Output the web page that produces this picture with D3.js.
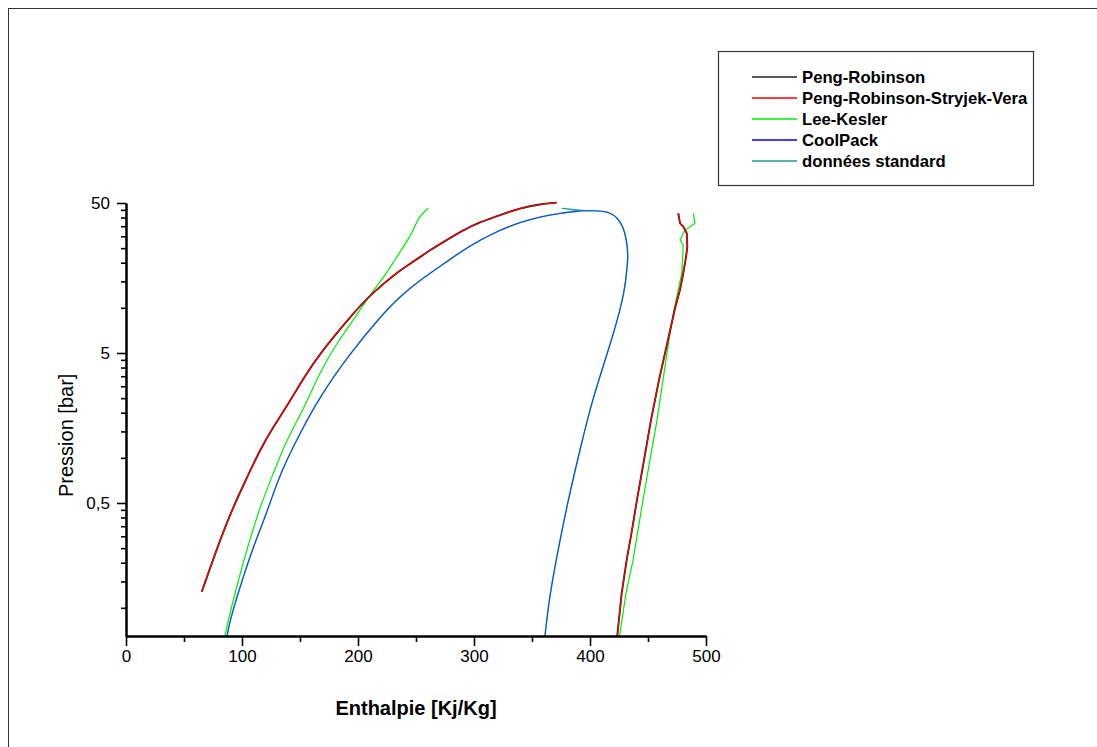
<!DOCTYPE html>
<html>
<head>
<meta charset="utf-8">
<script src="https://cdn.jsdelivr.net/npm/d3@7"></script>
<style>
  body { margin: 0; background: #fff; }
  text { font-family: "Liberation Sans", Arial, sans-serif; }
</style>
</head>
<body>
<div class="chart"></div>
<script>
// [enthalpie kJ/kg, pression bar]
var prLiquid = [[65.3,0.128],[81.0,0.283],[92.5,0.472],[104.0,0.731],[115.5,1.13],[127.0,1.61],[138.5,2.19],[152.8,3.39],[167.2,4.98],[194.6,8.96],[210.3,12.2],[236.2,17.9],[247.7,20.3],[262.1,24.3],[276.5,28.3],[290.8,33.0],[305.2,37.3],[322.4,41.6],[339.7,46.1],[356.9,49.2],[371.3,50.3]];
var prVapor = [[476.1,42.7],[477.6,36.6],[480.4,34.8],[483.4,31.4],[483.9,25.6],[482.8,21.9],[480.4,17.0],[477.6,13.2],[473.3,9.93],[467.2,6.11],[459.5,3.30],[452.6,1.79],[446.6,0.968],[440.5,0.524],[436.2,0.330],[431.6,0.208],[427.3,0.125],[423.5,0.065]];

var prsvLiquid = [[65.3,0.128],[81.0,0.283],[92.5,0.472],[104.0,0.731],[115.5,1.13],[127.0,1.61],[138.5,2.19],[152.8,3.39],[167.2,4.98],[194.6,8.96],[210.3,12.2],[236.2,17.9],[247.7,20.3],[262.1,24.3],[276.5,28.3],[290.8,33.0],[305.2,37.3],[322.4,41.6],[339.7,46.1],[356.9,49.2],[371.3,50.3]];
var prsvVapor = [[476.1,42.7],[477.6,36.6],[480.4,34.8],[483.4,31.4],[483.9,25.6],[482.8,21.9],[480.4,17.0],[477.6,13.2],[473.3,9.93],[467.2,6.11],[459.5,3.30],[452.6,1.79],[446.6,0.968],[440.5,0.524],[436.2,0.330],[431.6,0.208],[427.3,0.125],[423.5,0.065]];

var lkLiquid = [[85.3,0.065],[88.2,0.083],[95.4,0.138],[104.0,0.243],[115.5,0.472],[127.0,0.789],[138.5,1.32],[152.8,2.09],[167.2,3.75],[181.9,5.84],[198.9,8.96],[210.3,12.2],[224.7,17.0],[233.4,21.9],[247.7,32.2],[252.0,40.5],[260.6,46.1]];
var lkVapor = [[489.1,42.7],[490.5,36.6],[481.9,33.0],[477.6,28.3],[480.4,26.2],[479.9,21.9],[479.1,17.0],[476.1,13.2],[472.7,9.93],[468.1,6.11],[462.9,3.30],[457.8,1.79],[451.7,0.968],[445.7,0.524],[441.4,0.330],[437.1,0.208],[431.0,0.125],[425.5,0.065]];

var coolpack = [[87.1,0.065],[89.7,0.083],[98.3,0.138],[109.7,0.256],[121.3,0.427],[132.8,0.789],[150.0,1.46],[167.2,2.56],[191.4,4.78],[220.4,8.96],[236.2,11.9],[253.4,15.3],[276.5,20.3],[290.8,24.3],[305.2,28.3],[322.4,33.0],[339.7,37.2],[356.9,40.5],[374.1,42.7],[392.8,44.5],[414.4,44.5],[423.0,40.5],[428.7,34.8],[431.6,28.3],[433.0,21.9],[431.6,17.9],[430.2,13.2],[421.6,7.1],[401.7,2.43],[391.4,1.13],[381.0,0.52],[370.7,0.208],[364.7,0.113],[361.2,0.065]];
var standard = [[87.1,0.065],[89.7,0.083],[98.3,0.138],[109.7,0.256],[121.3,0.427],[132.8,0.789],[150.0,1.46],[167.2,2.56],[191.4,4.78],[220.4,8.96],[236.2,11.9],[253.4,15.3],[276.5,20.3],[290.8,24.3],[305.2,28.3],[322.4,33.0],[339.7,37.2],[356.9,40.5],[374.1,42.7],[392.8,44.5],[392.8,44.5],[375.6,46.1],[375.6,46.1],[392.8,44.5],[392.8,44.5],[414.4,44.5],[423.0,40.5],[428.7,34.8],[431.6,28.3],[433.0,21.9],[431.6,17.9],[430.2,13.2],[421.6,7.1],[401.7,2.43],[391.4,1.13],[381.0,0.52],[370.7,0.208],[364.7,0.113],[361.2,0.065]];

var legendNames = ["Peng-Robinson", "Peng-Robinson-Stryjek-Vera", "Lee-Kesler", "CoolPack", "données standard"];
var legendColors = ["#222222", "#ff0000", "#00ee00", "#0000ff", "#1a9a9a"];

var xMajor = [0, 100, 200, 300, 400, 500];
var xMinor = [50, 150, 250, 350, 450];
var yMajor = [0.5, 5, 50];
var yMajorLabels = ["0,5", "5", "50"];
var yMinor = [0.1, 0.15, 0.2, 0.25, 0.3, 0.35, 0.4, 0.45, 1, 1.5, 2, 2.5, 3, 3.5, 4, 4.5, 10, 15, 20, 25, 30, 35, 40, 45];

var W = 1097, H = 747;
var margin = {top: 203, right: 391, bottom: 111, left: 126},
    width = W - margin.left - margin.right,
    height = H - margin.top - margin.bottom;

var svg = d3.select(".chart")
    .append("svg")
    .attr("width", W)
    .attr("height", H);

svg.append("rect")
    .attr("x", 8.5).attr("y", 8.5)
    .attr("width", 1100).attr("height", 750)
    .attr("fill", "#fff")
    .attr("stroke", "#333");

var g = svg.append("g")
    .attr("transform", "translate(" + margin.left + "," + margin.top + ")");

var x = d3.scaleLinear().domain([0, 500]).range([0, width]);
var y = d3.scaleLog().domain([0.0649, 50]).range([height, 0]);

g.append("clipPath").attr("id", "plot")
    .append("rect").attr("x", 0).attr("y", -3).attr("width", width).attr("height", height + 3);

var smooth = d3.line()
    .x(function(d){ return x(d[0]); })
    .y(function(d){ return y(d[1]); })
    .curve(d3.curveBasis);
var straight = d3.line()
    .x(function(d){ return x(d[0]); })
    .y(function(d){ return y(d[1]); });

var curves = g.append("g").attr("clip-path", "url(#plot)").attr("fill", "none");

function draw(data, gen, color, w, op) {
    curves.append("path")
        .attr("d", gen(data))
        .attr("stroke", color)
        .attr("stroke-width", w)
        .attr("stroke-opacity", op || 1);
}

draw(standard, smooth, legendColors[4], 1.4);
draw(coolpack, smooth, legendColors[3], 1.2, 0.45);
draw(lkLiquid, smooth, legendColors[2], 1.2);
draw(lkVapor, straight, legendColors[2], 1.2);
draw(prLiquid, smooth, legendColors[0], 1.9);
draw(prVapor, straight, legendColors[0], 1.9);
draw(prsvLiquid, smooth, legendColors[1], 1.2);
draw(prsvVapor, straight, legendColors[1], 1.2);

// axes
g.append("g")
    .attr("transform", "translate(0," + height + ")")
    .call(d3.axisBottom(x).tickValues(xMajor).tickSize(10).tickPadding(4).tickSizeOuter(0));
g.append("g")
    .attr("transform", "translate(0," + height + ")")
    .call(d3.axisBottom(x).tickValues(xMinor).tickSize(6).tickFormat("").tickSizeOuter(0));

g.append("g")
    .call(d3.axisLeft(y).tickValues(yMajor).tickSize(9).tickPadding(7).tickSizeOuter(0)
        .tickFormat(function(d, i){ return yMajorLabels[i]; }));
g.append("g")
    .call(d3.axisLeft(y).tickValues(yMinor).tickSize(5).tickFormat("").tickSizeOuter(0));

g.selectAll(".domain").attr("stroke", "#000").attr("stroke-width", 2);
g.selectAll(".tick line").attr("stroke", "#000").attr("stroke-width", 1.6);
g.selectAll(".tick text")
    .attr("fill", "#000")
    .style("font-family", "'Liberation Sans', Arial, sans-serif")
    .style("font-size", "17px");

svg.append("text")
    .attr("x", margin.left + width / 2)
    .attr("y", 715)
    .attr("text-anchor", "middle")
    .style("font-size", "20px")
    .style("font-weight", "bold")
    .text("Enthalpie [Kj/Kg]");

svg.append("text")
    .attr("transform", "translate(73,497) rotate(-90)")
    .attr("text-anchor", "start")
    .style("font-size", "20px")
    .text("Pression [bar]");

// legend
var items = d3.zip(legendNames, legendColors).map(function(p){ return {name: p[0], color: p[1]}; });

var legend = svg.append("g").attr("transform", "translate(718,51)");
legend.append("rect")
    .attr("x", 0.5).attr("y", 0.5)
    .attr("width", 315).attr("height", 134)
    .attr("fill", "#fff")
    .attr("stroke", "#333")
    .attr("stroke-width", 1.2);

items.forEach(function(d, i){
    var yy = 26 + i * 21;
    legend.append("line")
        .attr("x1", 34).attr("x2", 79)
        .attr("y1", yy).attr("y2", yy)
        .attr("stroke", d.color)
        .attr("stroke-width", 1.6);
    legend.append("text")
        .attr("x", 84)
        .attr("y", yy)
        .attr("dy", "0.36em")
        .style("font-size", "16.7px")
        .style("font-weight", "bold")
        .text(d.name);
});
</script>
</body>
</html>
